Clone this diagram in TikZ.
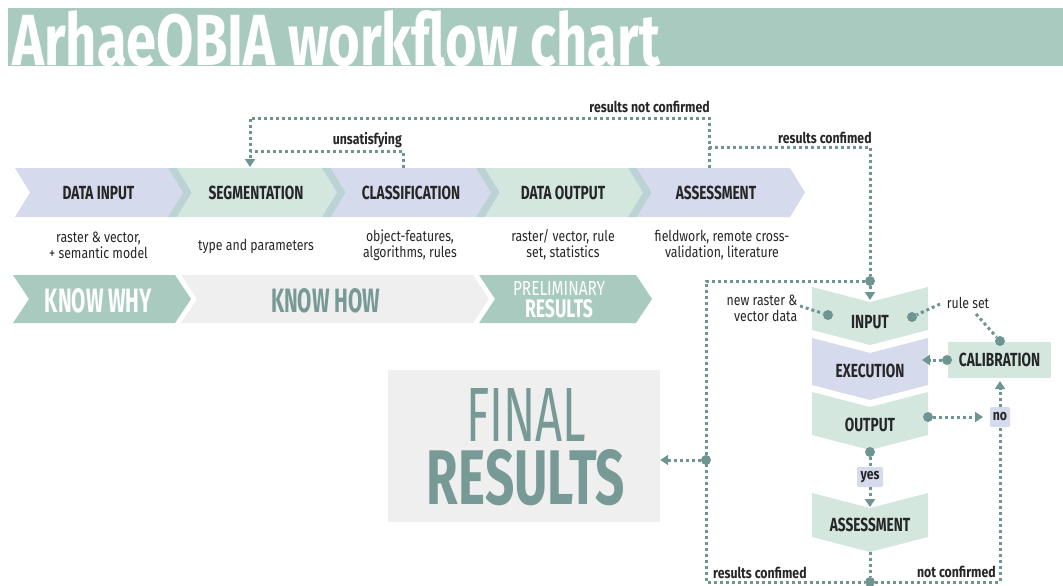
\documentclass[tikz,border=0pt]{standalone}
\usepackage{fontspec}
\setmainfont{Fira Sans}
\newfontfamily\condL[FakeStretch=0.72]{Fira Sans}
\newfontfamily\condS[FakeStretch=0.82]{Fira Sans}
\usetikzlibrary{arrows.meta}
\definecolor{teal1}{HTML}{A9CBBF}
\definecolor{lav}{HTML}{D5DAEC}
\definecolor{mint}{HTML}{D4E7DF}
\definecolor{bandc}{HTML}{BBD3D4}
\definecolor{lgray}{HTML}{EFEFEF}
\definecolor{dotc}{HTML}{6F9592}
\definecolor{txtteal}{HTML}{789A97}
\definecolor{dark}{HTML}{262626}
\newcommand\hchev[6]{\fill[#6] (#1,#3) -- (#2,#3) -- ({#2+#5},{(#3+#4)/2}) -- (#2,#4) -- (#1,#4) -- ({#1+#5},{(#3+#4)/2}) -- cycle;}
\newcommand\vchev[5]{\fill[#5] (#1,#3) -- ({(#1+#2)/2},{#3+15}) -- (#2,#3) -- (#2,#4) -- ({(#1+#2)/2},{#4+15}) -- (#1,#4) -- cycle;}
\tikzset{
  lab/.style={font=\condL\bfseries\fontsize{19}{19}\selectfont, text=dark, inner sep=0},
  desc/.style={font=\condS\fontsize{15}{16}\selectfont, text=dark, align=center, inner sep=0},
  small/.style={font=\condS\bfseries\fontsize{15}{15}\selectfont, text=dark, inner sep=0},
  conn/.style={dotc, line width=3pt, dash pattern=on 3pt off 3pt},
  arr/.style={conn, -{Triangle[width=10pt,length=8pt]}},
  fdot/.style={circle, fill=dotc, inner sep=0, minimum size=10pt},
  tag/.style={fill=lav, rounded corners=2pt, font=\condS\bfseries\fontsize{15}{15}\selectfont, text=dark, inner sep=0, minimum height=20pt},
  big/.style={anchor=base, inner sep=0}
}
\begin{document}
\begin{tikzpicture}[x=1pt,y=-1pt]
\path[use as bounding box] (0,0) rectangle (1063,586);
% title
\fill[teal1] (8,8) rectangle (1063,66);
\node[anchor=base west, inner sep=0, text=white] (title) at (12,66) {\resizebox{648pt}{55pt}{\bfseries ArhaeOBIA workflow chart}};
% row 1 chevrons
\hchev{15}{168}{168}{217}{15}{lav}
\hchev{168}{177}{168}{217}{15}{bandc}
\hchev{177}{322}{168}{217}{15}{mint}
\hchev{322}{331}{168}{217}{15}{bandc}
\hchev{331}{476}{168}{217}{15}{lav}
\hchev{476}{485}{168}{217}{15}{bandc}
\hchev{485}{628}{168}{217}{15}{mint}
\hchev{628}{637}{168}{217}{15}{bandc}
\hchev{637}{790}{168}{217}{15}{lav}
\node[lab] (din) at (98.5,193) {DATA INPUT};
\node[lab] (seg) at (256,193) {SEGMENTATION};
\node[lab] (cls) at (411,193) {CLASSIFICATION};
\node[lab] (dout) at (563,193) {DATA OUTPUT};
\node[lab] (ass) at (716,193) {ASSESSMENT};
\node[desc] (ddin) at (98.5,245) {raster \& vector,\\+ semantic model};
\node[desc] (dseg) at (256,246) {type and parameters};
\node[desc] (dcls) at (410,245) {object-features,\\algorithms, rules};
\node[desc] (ddout) at (563,245) {raster/ vector, rule\\set, statistics};
\node[desc] (dass) at (722,245) {fieldwork, remote cross-\\validation, literature};
% row 2
\hchev{13}{175}{275}{323}{16}{teal1}
\hchev{181}{473}{275}{323}{16}{lgray}
\hchev{479}{636}{275}{323}{16}{teal1}
\node[big, text=white] (why) at (98.5,312) {\resizebox{107pt}{24pt}{\bfseries KNOW WHY}};
\node[big, text=txtteal] (how) at (325.5,312) {\resizebox{109pt}{24pt}{\bfseries KNOW HOW}};
\node[big, text=white] (pre1) at (559,295) {\resizebox{92pt}{14pt}{PRELIMINARY}};
\node[big, text=white] (pre2) at (559,317) {\resizebox{68pt}{18pt}{\bfseries RESULTS}};
% final results
\node[fill=lgray, minimum width=272pt, minimum height=152pt, inner sep=0] (final) at (524,446) {};
\node[inner sep=0, text=txtteal, align=center, font=\fontsize{10}{63}\selectfont] (fintxt) at (526,447) {\resizebox{120pt}{53pt}{FINAL}\\\resizebox{198pt}{55pt}{\bfseries RESULTS}};
% right flow
\vchev{812}{928}{287}{330}{mint}
\vchev{812}{928}{338}{385}{lav}
\vchev{812}{928}{392}{435}{mint}
\vchev{812}{928}{493}{537}{mint}
\node[fill=mint, minimum width=103pt, minimum height=36pt, inner sep=0] (calbox) at (999.5,360) {};
\node[lab] (inp) at (870,322) {INPUT};
\node[lab] (exe) at (870,371) {EXECUTION};
\node[lab] (outp) at (870,425) {OUTPUT};
\node[lab] (ass2) at (870,525) {ASSESSMENT};
\node[lab] (cal) at (999.5,360) {CALIBRATION};
\node[desc, align=right] (newd) at (762,308) {new raster \&\\vector data};
\node[desc] (rules) at (968,303) {rule set};
\node[tag, minimum width=20pt] (no) at (1000,417) {no};
\node[tag, minimum width=26pt] (yes) at (870,477) {yes};
% labels of loops
\node[small, anchor=east] (lunsat) at (402,140) {unsatisfying};
\node[small, anchor=east] (lnot) at (710,107) {results not confirmed};
\node[small, anchor=west] (lconf) at (778,138) {results confimed};
\node[small, anchor=west] (lconf2) at (713,573) {results confimed};
\node[small, anchor=east] (lnot2) at (996,572) {not confirmed};
% coordinates
\coordinate (clsTop) at (403,168);
\coordinate (k1) at (403,151);
\coordinate (k2) at (250,151);
\coordinate (segIn) at (250,167);
\coordinate (assTop) at (709,168);
\coordinate (k3) at (709,118);
\coordinate (k4) at (250,118);
\coordinate (k5) at (709,147);
\coordinate (k6) at (870,147);
\coordinate (inpIn) at (870,300);
\coordinate (k7) at (706,281);
\coordinate (k8) at (706,582);
\coordinate (k9) at (1000,582);
\coordinate (newEnd) at (800,306);
\coordinate (ruleEnd) at (940,304);
\coordinate (ruleEnd2) at (976,314);
\coordinate (exeIn) at (922,360);
\coordinate (noIn) at (983,417);
\coordinate (calIn) at (1000,381);
\coordinate (assIn) at (870,507);
\coordinate (assOut) at (870,552);
% dots
\node[fdot] (dA) at (870,281) {};
\node[fdot] (dNew) at (828,315) {};
\node[fdot] (dRule) at (912,317) {};
\node[fdot] (dCalT) at (1000,341) {};
\node[fdot] (dCal) at (947,360) {};
\node[fdot] (dOut) at (928,417) {};
\node[fdot] (dYes) at (870,452) {};
\node[fdot] (dBot) at (870,582) {};
\node[fdot] (dFin) at (706,460) {};
% connectors
\draw[arr] (clsTop) -- (k1) -- (k2) -- (segIn);
\draw[conn] (assTop) -- (k3) -- (k4) -- (k2);
\draw[conn] (k5) -- (k6) -- (dA);
\draw[arr] (dA) -- (inpIn);
\draw[conn] (dA) -- (k7) -- (k8) -- (dBot);
\draw[conn] (dBot) -- (k9) -- (no);
\draw[arr] (no) -- (calIn);
\draw[arr] (dOut) -- (noIn);
\draw[arr] (dCal) -- (exeIn);
\draw[conn] (newEnd) -- (dNew);
\draw[conn] (ruleEnd) -- (dRule);
\draw[conn] (ruleEnd2) -- (dCalT);
\draw[conn] (dYes) -- (yes);
\draw[arr] (yes) -- (assIn);
\draw[conn] (assOut) -- (dBot);
\draw[arr] (dFin) -- (final.east |- dFin);
\end{tikzpicture}
\end{document}
